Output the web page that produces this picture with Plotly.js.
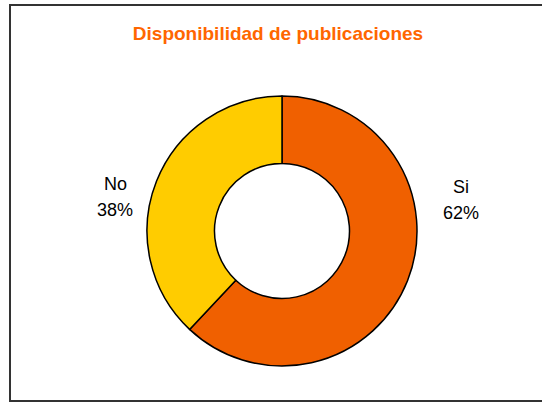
<!DOCTYPE html>
<html>
<head>
<meta charset="utf-8">
<script src="https://cdn.plot.ly/plotly-3.0.1.min.js"></script>
<style>html,body{margin:0;padding:0;background:#fff;}#chart{width:542px;height:403px;}</style>
</head>
<body>
<div id="chart"></div>
<script>
const categories = ["Si", "No"];
const values = [62, 38];
const colors = ["#F06000", "#FFCC00"];
const chartTitle = "Disponibilidad de publicaciones";

const W = 542, H = 403;
const px = x => x / W;
const py = y => 1 - y / H;

const total = values.reduce((a, b) => a + b, 0);
const pct = values.map(v => Math.round(v / total * 100) + "%");

// label positions (layout)
const labelPos = [
  {x: 461, y1: 187, y2: 213},
  {x: 115, y1: 184, y2: 210}
];
const annotations = [];
categories.forEach((c, i) => {
  const p = labelPos[i];
  annotations.push({xref: "paper", yref: "paper", x: px(p.x), y: py(p.y1), text: c, showarrow: false,
    xanchor: "center", yanchor: "middle", font: {family: "Liberation Sans, Arial, sans-serif", size: 18, color: "#000"}});
  annotations.push({xref: "paper", yref: "paper", x: px(p.x), y: py(p.y2), text: pct[i], showarrow: false,
    xanchor: "center", yanchor: "middle", font: {family: "Liberation Sans, Arial, sans-serif", size: 18, color: "#000"}});
});

const cx = 282, cy = 231, r = 135;
const trace = {
  type: "pie",
  labels: categories,
  values: values,
  hole: 0.5,
  sort: false,
  direction: "clockwise",
  rotation: 0,
  textinfo: "none",
  marker: {colors: colors, line: {color: "#000", width: 1.5}},
  domain: {x: [px(cx - r), px(cx + r)], y: [py(cy + r), py(cy - r)]},
  showlegend: false,
  hoverinfo: "label+percent"
};

const layout = {
  width: W, height: H,
  margin: {l: 0, r: 0, t: 0, b: 0},
  paper_bgcolor: "#fff",
  showlegend: false,
  title: {text: chartTitle, x: px(278), xanchor: "center", y: py(33), yanchor: "middle", yref: "paper",
    font: {family: "Liberation Sans, Arial, sans-serif", size: 19, color: "#FF6600", weight: "bold"}},
  annotations: annotations,
  shapes: [{type: "rect", xref: "paper", yref: "paper", x0: px(10), y0: py(401), x1: px(560), y1: py(5),
    line: {color: "#333", width: 2}}]
};

Plotly.newPlot("chart", [trace], layout, {displayModeBar: false, staticPlot: true});
</script>
</body>
</html>
